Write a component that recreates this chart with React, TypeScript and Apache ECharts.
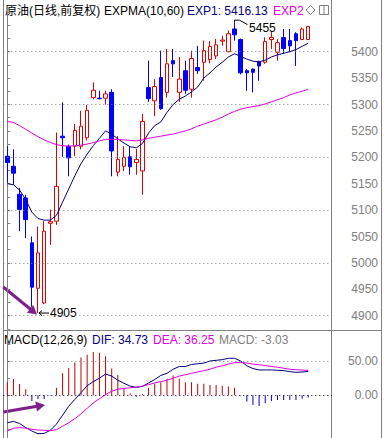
import React, { useEffect, useRef } from "react";
import * as echarts from "echarts";

// ---- Data ----
const open = [5202, 5183, 5130, 5123, 5038, 4952, 4924, 5075, 5079, 5240, 5221, 5221, 5221, 5237, 5313, 5312, 5312, 5323, 5172, 5183, 5201, 5190, 5174, 5332, 5307, 5351, 5323, 5383, 5323, 5364, 5329, 5370, 5380, 5385, 5392, 5420, 5400, 5443, 5423, 5364, 5367, 5381, 5380, 5423, 5399, 5427, 5421, 5434, 5423, 5423];
const close = [5190, 5170, 5101, 5082, 4954, 5019, 5060, 5078, 5145, 5237, 5199, 5251, 5259, 5289, 5327, 5311, 5320, 5212, 5196, 5200, 5182, 5196, 5268, 5311, 5334, 5292, 5377, 5377, 5348, 5327, 5387, 5364, 5402, 5410, 5413, 5422, 5434, 5432, 5360, 5360, 5361, 5373, 5419, 5427, 5417, 5406, 5411, 5421, 5443, 5448];
const low = [5152, 5148, 5060, 5047, 4917, 4905, 4922, 5034, 5072, 5201, 5164, 5202, 5215, 5232, 5310, 5310, 5300, 5164, 5164, 5174, 5167, 5167, 5129, 5305, 5278, 5290, 5313, 5352, 5305, 5320, 5313, 5358, 5345, 5378, 5386, 5411, 5399, 5421, 5357, 5326, 5323, 5345, 5377, 5405, 5383, 5396, 5399, 5373, 5422, 5423];
const high = [5221, 5215, 5142, 5129, 5050, 5069, 5079, 5101, 5247, 5304, 5224, 5263, 5288, 5299, 5342, 5326, 5326, 5329, 5240, 5221, 5221, 5216, 5282, 5383, 5348, 5402, 5405, 5405, 5390, 5383, 5402, 5411, 5421, 5420, 5424, 5430, 5440, 5455, 5425, 5367, 5368, 5383, 5427, 5437, 5424, 5443, 5443, 5437, 5446, 5448];
const exp1 = [5150, 5148, 5138, 5120, 5096, 5084, 5081, 5081, 5090, 5115, 5140, 5165, 5188, 5206, 5222, 5236, 5250, 5244, 5235, 5227, 5220, 5218, 5226, 5246, 5260, 5267, 5285, 5300, 5310, 5316, 5324, 5333, 5350, 5360, 5371, 5380, 5390, 5396, 5391, 5386, 5382, 5381, 5384, 5390, 5394, 5397, 5400, 5404, 5410, 5416.13];
const exp2 = [5268, 5266, 5260, 5253, 5246, 5239, 5233, 5228, 5224, 5222, 5221, 5222, 5223, 5225, 5228, 5231, 5234, 5234, 5234, 5233, 5232, 5231, 5233, 5236, 5238, 5240, 5242, 5244, 5247, 5250, 5254, 5259, 5263, 5267, 5271, 5276, 5282, 5287, 5291, 5294, 5296, 5298, 5301, 5305, 5309, 5313, 5318, 5322, 5325, 5329];
const dif = [-40, -38, -41, -47, -52, -56, -55.5, -51, -42, -29, -16, -6, 4, 14, 20, 25, 31, 28, 22, 17.5, 13.5, 11.5, 13, 18, 23, 29, 32, 38, 42, 42, 45, 46, 47, 50, 51, 52, 54, 54, 50, 43, 39, 37, 37, 37, 36.5, 36, 34.5, 33.5, 34, 34.73];
const dea = [-52, -48, -47, -48, -49.5, -50.5, -51, -51.5, -50, -45, -40, -34, -27, -19, -11, -5, 1, 6, 9, 10, 11, 12, 13.5, 15.5, 18, 20, 22, 25, 28, 30, 32, 34, 36, 38, 41, 43, 45.5, 47.5, 48, 47, 45.5, 44.5, 43.5, 42, 41, 39.5, 38, 37.3, 36.8, 36.25];
const macd = [19, 23.8, 16.5, 8.7, -8.3, -5.3, -5.3, -0.5, 11, 32, 40, 48, 55, 59, 63, 62, 57, 39, 29.6, 11, 3, -2, 2, 11, 17, 19, 24, 29, 24, 19, 19, 17, 17, 15, 15, 14, 13, 11, 0.5, -9, -14, -15.5, -11.7, -8.3, -7, -7, -7, -7, -5, -3.03];

const priceGridLevels = [4900, 5000, 5100, 5200, 5300, 5400];
const macdGridLevels = [0, 50];
const lowLabel = "4905";
const highLabel = "5455";
const lowIndex = 5;
const highIndex = 37;

const FONT = "'Liberation Sans', Arial, 'Noto Sans CJK SC', sans-serif";
const GRAY = "#808080";
const RED = "#e00000";
const BLUE = "#0000ff";
const NAVY = "#000080";
const MAGENTA = "#e000e0";
const PURPLE = "#7f1f8c";

const X_MIN = -0.651;
const X_MAX = 52.87;

function arrow(tail: number[], tip: number[], color: string, w: number, headLen: number, headHalf: number) {
  const dx = tip[0] - tail[0];
  const dy = tip[1] - tail[1];
  const len = Math.sqrt(dx * dx + dy * dy);
  const ux = dx / len, uy = dy / len;
  const nx = -uy, ny = ux;
  const bx = tip[0] - ux * headLen, by = tip[1] - uy * headLen;
  return [
    { type: "line", silent: true, shape: { x1: tail[0], y1: tail[1], x2: bx + ux * 1, y2: by + uy * 1 }, style: { stroke: color, lineWidth: w } },
    { type: "polygon", silent: true, shape: { points: [tip, [bx + nx * headHalf, by + ny * headHalf], [bx - nx * headHalf, by - ny * headHalf]] }, style: { fill: color } },
  ];
}

export default function App() {
  const ref = useRef<HTMLDivElement>(null);
  useEffect(() => {
    if (!ref.current) return;
    const chart = echarts.init(ref.current, undefined, { renderer: "svg" });
    const idx = open.map((_, i) => i);
    const ohlc = idx.map((i) => [i, open[i], close[i], low[i], high[i]]);

    const txt = (x: number, y: number, text: string, fill: string, align = "left") => ({
      type: "text", silent: true, x, y,
      style: { text, fill, fontSize: 12, fontFamily: FONT, verticalAlign: "middle", align },
    });
    const ln = (x1: number, y1: number, x2: number, y2: number, stroke = GRAY) => ({
      type: "line", silent: true, shape: { x1, y1, x2, y2 }, style: { stroke, lineWidth: 1 },
    });

    const option: any = {
      animation: false,
      backgroundColor: "#ffffff",
      grid: [
        { left: 3.3, top: 12.1, width: 328.7, height: 316.8 },
        { left: 3.3, top: 330, width: 328.7, height: 108 },
      ],
      xAxis: [
        { type: "value", gridIndex: 0, min: X_MIN, max: X_MAX, show: false },
        { type: "value", gridIndex: 1, min: X_MIN, max: X_MAX, show: false },
      ],
      yAxis: [
        {
          type: "value", gridIndex: 0, position: "right", min: 4875, max: 5475, interval: 25,
          axisLine: { show: true, lineStyle: { color: GRAY } },
          axisTick: { show: true, length: 3, lineStyle: { color: GRAY } },
          splitLine: { show: false },
          axisLabel: {
            color: GRAY, fontSize: 12, fontFamily: FONT, align: "right", margin: 46,
            formatter: (v: number) => (Math.abs(v % 50) < 1e-6 && v >= 4900 && v <= 5400 ? String(v) : ""),
          },
        },
        {
          type: "value", gridIndex: 1, position: "right", min: -62.2, max: 95.2, minInterval: 25, maxInterval: 25,
          axisLine: { show: true, lineStyle: { color: GRAY } },
          axisTick: { show: true, length: 3, lineStyle: { color: GRAY } },
          splitLine: { show: false },
          axisLabel: {
            color: GRAY, fontSize: 12, fontFamily: FONT, align: "right", margin: 46,
            formatter: (v: number) => (v === 0 || v === 50 ? v.toFixed(2) : ""),
          },
        },
      ],
      series: [
        {
          type: "candlestick", xAxisIndex: 0, yAxisIndex: 0, data: ohlc, barWidth: 4, silent: true,
          itemStyle: { color: "#ffffff", color0: BLUE, borderColor: RED, borderColor0: BLUE, borderWidth: 1 },
          markLine: {
            silent: true, symbol: ["none", "none"], label: { show: false },
            lineStyle: { color: GRAY, type: [1, 3], width: 1 },
            data: priceGridLevels.map((v) => ({ yAxis: v })),
          },
        },
        { type: "line", xAxisIndex: 0, yAxisIndex: 0, data: idx.map((i) => [i, exp1[i]]), symbol: "none", silent: true, lineStyle: { color: NAVY, width: 1 } },
        { type: "line", xAxisIndex: 0, yAxisIndex: 0, data: idx.map((i) => [i, exp2[i]]), symbol: "none", silent: true, lineStyle: { color: MAGENTA, width: 1 } },
        {
          type: "bar", xAxisIndex: 1, yAxisIndex: 1, barWidth: 1, silent: true,
          data: idx.map((i) => ({ value: [i, macd[i]], itemStyle: { color: macd[i] >= 0 ? "#c00000" : "#0000c0" } })),
          markLine: {
            silent: true, symbol: ["none", "none"], label: { show: false },
            data: macdGridLevels.map((v) => ({ yAxis: v, lineStyle: { color: v === 0 ? "#000000" : GRAY, type: [1, 3], width: 1 } })),
          },
        },
        { type: "line", xAxisIndex: 1, yAxisIndex: 1, data: idx.map((i) => [i, dif[i]]), symbol: "none", silent: true, lineStyle: { color: NAVY, width: 1 } },
        { type: "line", xAxisIndex: 1, yAxisIndex: 1, data: idx.map((i) => [i, dea[i]]), symbol: "none", silent: true, lineStyle: { color: MAGENTA, width: 1 } },
      ],
    };
    chart.setOption(option);

    const pHigh = chart.convertToPixel({ gridIndex: 0 }, [highIndex, high[highIndex]]) as number[];
    const pLow = chart.convertToPixel({ gridIndex: 0 }, [lowIndex, low[lowIndex]]) as number[];

    const graphics: any[] = [
      // frame
      ln(3.5, 0, 3.5, 438),
      ln(331.5, 0, 331.5, 438),
      ln(381.5, 0, 381.5, 438),
      ln(3, 330.5, 382, 330.5),
      // title row
      txt(5, 11, "原油(日线,前复权)", "#000000"),
      txt(104, 11, "EXPMA(10,60)", "#000000"),
      txt(187, 11, "EXP1: 5416.13", NAVY),
      txt(273, 11, "EXP2", MAGENTA),
      { type: "polygon", silent: true, shape: { points: [[310.5, 5.5], [315, 10], [310.5, 14.5], [306, 10]] }, style: { fill: "none", stroke: GRAY, lineWidth: 1 } },
      { type: "rect", silent: true, shape: { x: 319.5, y: 5.5, width: 9, height: 9 }, style: { fill: "none", stroke: GRAY, lineWidth: 1 } },
      ln(324, 5.5, 324, 14.5),
      // macd title
      txt(4, 340, "MACD(12,26,9)", "#000000"),
      txt(92, 340, "DIF: 34.73", NAVY),
      txt(153, 340, "DEA: 36.25", MAGENTA),
      txt(219, 340, "MACD: -3.03", GRAY),
      // high annotation
      { type: "polyline", silent: true, shape: { points: [[pHigh[0], pHigh[1]], [pHigh[0], pHigh[1] - 2.5], [pHigh[0] + 5, pHigh[1] - 2.5], [pHigh[0] + 13, pHigh[1] + 2]] }, style: { stroke: "#000000", lineWidth: 1, fill: "none" } },
      txt(pHigh[0] + 14.5, pHigh[1] + 5.5, highLabel, "#000000"),
      // low annotation
      ln(pLow[0] + 1, pLow[1], pLow[0] + 11, pLow[1], "#000000"),
      { type: "polyline", silent: true, shape: { points: [[pLow[0] + 4, pLow[1] - 2.5], [pLow[0] + 1, pLow[1]], [pLow[0] + 4, pLow[1] + 2.5]] }, style: { stroke: "#000000", lineWidth: 1, fill: "none" } },
      txt(pLow[0] + 12, pLow[1], lowLabel, "#000000"),
      // purple hand-drawn arrows
      ...arrow([3.3, 287], [pLow[0] - 1, pLow[1] + 1.5], PURPLE, 3, 9, 5),
      ...arrow([3.3, 412], [45, 405], PURPLE, 3, 9, 5),
    ];
    chart.setOption({ graphic: graphics });

    return () => chart.dispose();
  }, []);
  return (
    <div
      ref={ref}
      style={{ position: "fixed", left: 0, top: 0, width: 384, height: 438, background: "#ffffff" }}
    />
  );
}
